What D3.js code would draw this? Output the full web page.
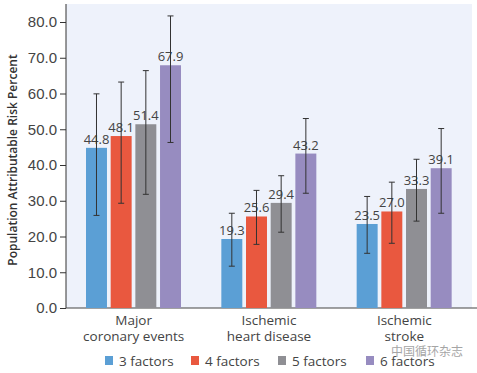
<!DOCTYPE html>
<html>
<head>
<meta charset="utf-8">
<script src="https://cdnjs.cloudflare.com/ajax/libs/d3/7.8.5/d3.min.js"></script>
<style>
body { margin:0; background:#fff; }
svg { display:block; font-family:"Open Sans", "Noto Sans", sans-serif; }
</style>
</head>
<body>
<div id="chart"></div>
<script>
var categories = [["Major", "coronary events"], ["Ischemic", "heart disease"], ["Ischemic", "stroke"]];
var series = ["3 factors", "4 factors", "5 factors", "6 factors"];
var colors = ["#5b9fd5", "#e9583f", "#8f8f94", "#978cc0"];
// values[category][series]
var values = [[44.8, 48.1, 51.4, 67.9], [19.3, 25.6, 29.4, 43.2], [23.5, 27.0, 33.3, 39.1]];
var lows = [[25.9, 29.3, 31.8, 46.3], [11.7, 17.8, 21.2, 32.1], [15.3, 18.1, 24.3, 26.5]];
var highs = [[59.9, 63.2, 66.4, 81.7], [26.5, 32.9, 37.0, 53.0], [31.2, 35.2, 41.6, 50.2]];
var yTicks = [0, 10, 20, 30, 40, 50, 60, 70, 80];

var width = 477, height = 373;
var plotL = 66, plotR = 472, plotT = 4, plotB = 308;

var svg = d3.select('#chart').append('svg')
    .attr('width', width)
    .attr('height', height);

svg.append('rect')
    .attr('x', plotL).attr('y', plotT)
    .attr('width', plotR - plotL).attr('height', plotB - plotT)
    .attr('fill', '#eef2fb');

var y = d3.scaleLinear().domain([0, 80]).range([plotB, 22]);
var x0 = d3.scaleBand().domain(d3.range(categories.length)).range([plotL, plotR]);
var x1 = d3.scaleBand().domain(d3.range(series.length)).range([20, 115]).paddingInner(0.15);

// y axis
var yAxis = svg.append('g')
    .attr('transform', 'translate(' + plotL + ',0)')
    .call(d3.axisLeft(y).tickValues(yTicks).tickFormat(d3.format('.1f')).tickSize(6).tickPadding(3));
yAxis.select('.domain').attr('d', 'M0,' + plotT + 'V' + plotB).attr('stroke', '#333');
yAxis.selectAll('.tick line').attr('stroke', '#333');
yAxis.selectAll('.tick text').attr('fill', '#444').style('font-size', '15px');

// x axis line
svg.append('line')
    .attr('x1', plotL).attr('x2', plotR + 5)
    .attr('y1', plotB).attr('y2', plotB)
    .attr('stroke', '#444').attr('stroke-width', 1.2);

svg.append('text')
    .attr('transform', 'translate(17,' + ((plotT + plotB) / 2 + 4) + ') rotate(-90)')
    .attr('text-anchor', 'middle')
    .attr('fill', '#333')
    .style('font-size', '12px')
    .style('font-weight', '600')
    .text('Population Attributable Risk Percent');

var groups = svg.selectAll('.group')
    .data(values)
    .enter().append('g')
    .attr('transform', function(d, i) { return 'translate(' + x0(i) + ',0)'; });

groups.each(function(row, ci) {
    var g = d3.select(this);
    row.forEach(function(v, si) {
        var cx = x1(si) + x1.bandwidth() / 2;
        g.append('rect')
            .attr('x', x1(si))
            .attr('y', y(v))
            .attr('width', x1.bandwidth())
            .attr('height', y(0) - y(v))
            .attr('fill', colors[si]);
        g.append('text')
            .attr('x', cx)
            .attr('y', y(v) - 4)
            .attr('text-anchor', 'middle')
            .attr('fill', '#444')
            .style('font-size', '13px')
            .text(v.toFixed(1));
        var lo = lows[ci][si], hi = highs[ci][si];
        g.append('line')
            .attr('x1', cx).attr('x2', cx)
            .attr('y1', y(lo)).attr('y2', y(hi))
            .attr('stroke', '#333').attr('stroke-width', 1);
        [lo, hi].forEach(function(e) {
            g.append('line')
                .attr('x1', cx - 3).attr('x2', cx + 3)
                .attr('y1', y(e)).attr('y2', y(e))
                .attr('stroke', '#333').attr('stroke-width', 1);
        });
    });
});

// category labels
categories.forEach(function(lines, i) {
    lines.forEach(function(l, k) {
        svg.append('text')
            .attr('x', x0(i) + x0.bandwidth() / 2)
            .attr('y', 325 + k * 16)
            .attr('text-anchor', 'middle')
            .attr('fill', '#444')
            .style('font-size', '13.5px')
            .text(l);
    });
});

// legend
var legendX = [105, 191, 278, 366];
series.forEach(function(s, i) {
    svg.append('rect')
        .attr('x', legendX[i]).attr('y', 356)
        .attr('width', 8).attr('height', 9)
        .attr('fill', colors[i]);
    svg.append('text')
        .attr('x', legendX[i] + 14).attr('y', 366)
        .attr('fill', '#444')
        .style('font-size', '13.5px')
        .text(s);
});

// watermark
svg.append('text')
    .attr('x', 463).attr('y', 356)
    .attr('text-anchor', 'end')
    .attr('fill', '#888')
    .attr('opacity', 0.75)
    .style('font-family', '"Noto Sans CJK SC", sans-serif')
    .style('font-size', '12px')
    .text('中国循环杂志');
</script>
</body>
</html>
